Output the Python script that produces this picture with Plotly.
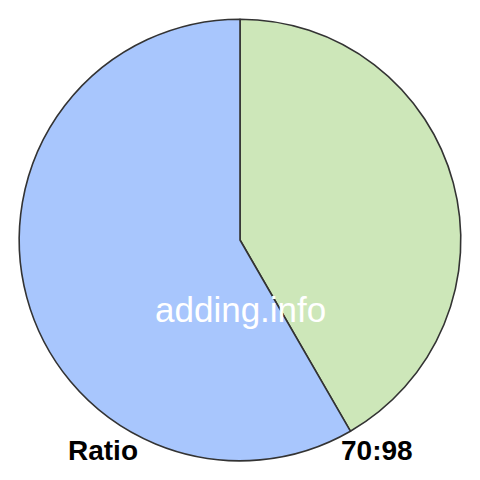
import plotly.graph_objects as go

# Datos del gráfico
labels = ["70", "98"]
values = [70, 98]
colors = ["#cde7b9", "#a8c6fd"]
left_label = "Ratio"
right_label = "70:98"
watermark = "adding.info"

fig = go.Figure()

fig.add_trace(
    go.Pie(
        labels=labels,
        values=values,
        sort=False,
        direction="clockwise",
        rotation=0,
        marker=dict(colors=colors, line=dict(color="#333333", width=1.6)),
        textinfo="none",
        hoverinfo="label+value",
        domain=dict(x=[0.04, 0.96], y=[0.04, 0.96]),
        showlegend=False,
    )
)

# Textos
fig.add_annotation(
    text=watermark, x=0.5, y=0.355, xref="paper", yref="paper",
    xanchor="center", yanchor="middle",
    showarrow=False, font=dict(family="Liberation Sans, Arial", size=35, color="white"),
)
fig.add_annotation(
    text="<b>" + left_label + "</b>", x=0.215, y=0.061, xref="paper", yref="paper",
    xanchor="center", yanchor="middle",
    showarrow=False, font=dict(family="Liberation Sans, Arial", size=28, color="black"),
)
fig.add_annotation(
    text="<b>" + right_label + "</b>", x=0.785, y=0.061, xref="paper", yref="paper",
    xanchor="center", yanchor="middle",
    showarrow=False, font=dict(family="Liberation Sans, Arial", size=28, color="black"),
)

fig.update_layout(
    width=480,
    height=480,
    margin=dict(l=0, r=0, t=0, b=0),
    paper_bgcolor="white",
    plot_bgcolor="white",
)

fig.write_html(
    "out.html",
    config={"displayModeBar": False},
    post_script="document.body.style.margin='0px';",
)
